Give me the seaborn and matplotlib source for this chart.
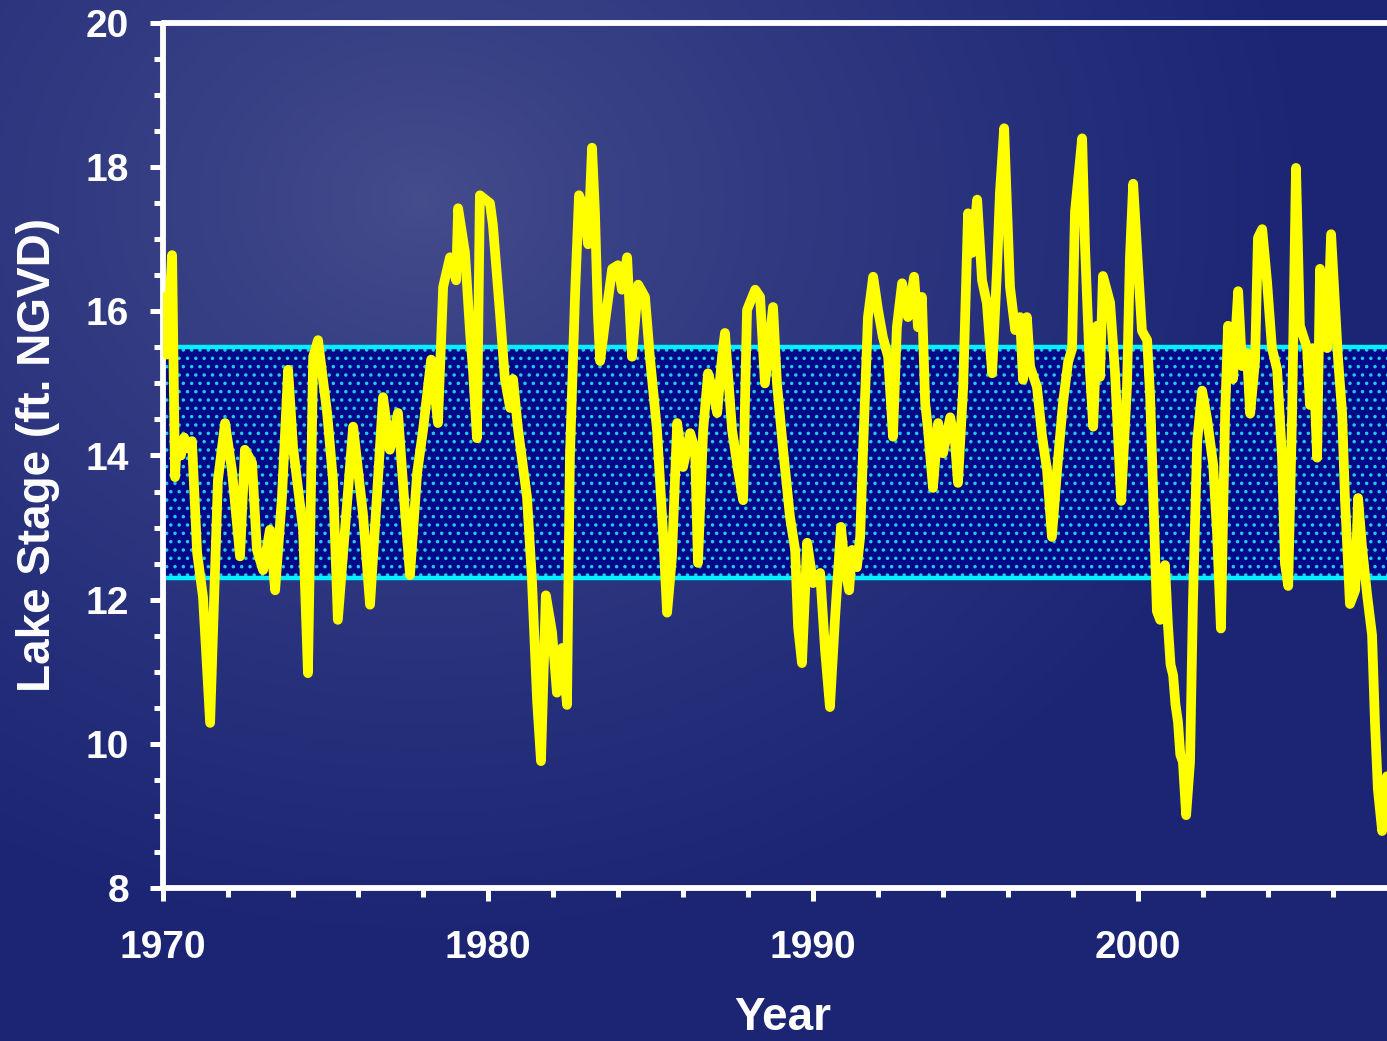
import numpy as np
import matplotlib
matplotlib.use("Agg")
import matplotlib.pyplot as plt
import seaborn as sns
from matplotlib.ticker import MultipleLocator, FixedLocator

# ---- data ----
years = [1970.00, 1970.06, 1970.12, 1970.28, 1970.37, 1970.43, 1970.55, 1970.65, 1970.77, 1970.89,
         1971.05, 1971.23, 1971.45, 1971.69, 1971.91, 1972.12, 1972.37, 1972.52, 1972.74, 1972.89,
         1973.08, 1973.29, 1973.45, 1973.66, 1973.85, 1974.00, 1974.31, 1974.46, 1974.62, 1974.77,
         1975.05, 1975.23, 1975.38, 1975.85, 1976.15, 1976.37, 1976.58, 1976.77, 1976.98, 1977.23,
         1977.45, 1977.60, 1977.82, 1978.00, 1978.25, 1978.46, 1978.62, 1978.83, 1979.02, 1979.08,
         1979.29, 1979.45, 1979.54, 1979.66, 1979.75, 1980.06, 1980.15, 1980.37, 1980.52, 1980.68,
         1980.77, 1980.92, 1981.20, 1981.35, 1981.51, 1981.63, 1981.78, 1981.97, 1982.12, 1982.28,
         1982.43, 1982.52, 1982.68, 1982.80, 1982.95, 1983.08, 1983.20, 1983.29, 1983.38, 1983.45,
         1983.60, 1983.82, 1984.00, 1984.12, 1984.28, 1984.43, 1984.62, 1984.83, 1984.98, 1985.20,
         1985.38, 1985.51, 1985.66, 1985.82, 1986.00, 1986.22, 1986.37, 1986.46, 1986.62, 1986.77,
         1986.92, 1987.05, 1987.20, 1987.29, 1987.51, 1987.69, 1987.85, 1987.91, 1987.97, 1988.22,
         1988.37, 1988.52, 1988.77, 1988.89, 1989.08, 1989.29, 1989.45, 1989.54, 1989.66, 1989.82,
         1990.00, 1990.22, 1990.37, 1990.52, 1990.68, 1990.86, 1990.98, 1991.11, 1991.20, 1991.35,
         1991.45, 1991.54, 1991.69, 1991.85, 1992.00, 1992.15, 1992.31, 1992.46, 1992.58, 1992.74,
         1992.92, 1993.11, 1993.23, 1993.35, 1993.45, 1993.54, 1993.69, 1993.85, 1994.00, 1994.22,
         1994.37, 1994.46, 1994.62, 1994.77, 1994.89, 1995.05, 1995.20, 1995.35, 1995.51, 1995.66,
         1995.75, 1995.88, 1996.06, 1996.22, 1996.37, 1996.46, 1996.58, 1996.68, 1996.89, 1997.05,
         1997.20, 1997.35, 1997.51, 1997.69, 1997.85, 1997.97, 1998.06, 1998.28, 1998.37, 1998.52,
         1998.62, 1998.74, 1998.83, 1998.92, 1999.14, 1999.29, 1999.48, 1999.66, 1999.75, 1999.85,
         2000.00, 2000.12, 2000.28, 2000.37, 2000.46, 2000.58, 2000.68, 2000.83, 2000.92, 2001.00,
         2001.08, 2001.15, 2001.23, 2001.30, 2001.38, 2001.48, 2001.60, 2001.69, 2001.82, 2001.97,
         2002.12, 2002.31, 2002.43, 2002.55, 2002.68, 2002.77, 2002.92, 2003.08, 2003.20, 2003.35,
         2003.45, 2003.60, 2003.69, 2003.82, 2003.97, 2004.12, 2004.28, 2004.43, 2004.52, 2004.62,
         2004.74, 2004.86, 2004.98, 2005.20, 2005.29, 2005.38, 2005.51, 2005.60, 2005.69, 2005.82,
         2005.94, 2006.06, 2006.15, 2006.28, 2006.37, 2006.52, 2006.68, 2006.77, 2006.89, 2007.05,
         2007.20, 2007.29, 2007.38, 2007.51, 2007.66]
stage = [15.9, 16.2, 15.4, 16.78, 13.7, 14.2, 14.0, 14.25, 14.1, 14.2,
         12.65, 12.04, 10.29, 13.66, 14.45, 13.8, 12.6, 14.08, 13.9, 12.69,
         12.41, 12.97, 12.13, 13.42, 15.19, 14.12, 12.97, 10.98, 15.37, 15.6,
         14.59, 13.66, 11.72, 14.4, 13.2, 11.93, 13.42, 14.81, 14.08, 14.59,
         13.2, 12.34, 13.76, 14.35, 15.33, 14.45, 16.34, 16.75, 16.43, 17.43,
         16.82, 15.69, 15.17, 14.24, 17.61, 17.5, 17.2, 15.96, 15.06, 14.66,
         15.06, 14.38, 13.42, 12.29, 10.6, 9.76, 12.06, 11.55, 10.71, 11.33,
         10.54, 13.98, 16.25, 17.61, 17.43, 16.93, 18.27, 17.38, 15.96, 15.31,
         15.85, 16.59, 16.64, 16.3, 16.75, 15.37, 16.37, 16.2, 15.37, 14.35,
         12.97, 11.82, 12.59, 14.45, 13.84, 14.31, 14.08, 12.51, 14.35, 15.14,
         14.9, 14.59, 15.37, 15.7, 14.35, 13.8, 13.38, 14.81, 16.02, 16.3,
         16.2, 15.0, 16.06, 15.0, 14.08, 13.15, 12.69, 11.62, 11.12, 12.79,
         12.23, 12.37, 11.3, 10.51, 11.76, 13.01, 12.45, 12.13, 12.69, 12.45,
         12.87, 14.08, 15.92, 16.48, 16.02, 15.64, 15.37, 14.26, 15.78, 16.39,
         15.92, 16.48, 15.78, 16.2, 14.73, 14.35, 13.55, 14.45, 14.03, 14.53,
         14.17, 13.62, 14.95, 17.36, 16.81, 17.55, 16.43, 16.11, 15.14, 16.57,
         17.64, 18.54, 16.34, 15.74, 15.92, 15.05, 15.92, 15.23, 14.95, 14.26,
         13.8, 12.87, 13.8, 14.73, 15.3, 15.48, 17.38, 18.4, 16.88, 15.16,
         14.4, 15.8, 15.09, 16.49, 16.12, 15.16, 13.37, 14.96, 16.74, 17.77,
         16.62, 15.73, 15.6, 14.84, 13.56, 11.84, 11.72, 12.48, 11.65, 11.1,
         10.95, 10.55, 10.3, 9.85, 9.75, 9.01, 9.75, 11.97, 14.2, 14.9,
         14.52, 13.88, 12.93, 11.6, 14.58, 15.8, 15.06, 16.28, 15.24, 15.42,
         14.58, 15.31, 17.02, 17.14, 16.41, 15.49, 15.19, 13.97, 12.5, 12.19,
         14.58, 17.99, 15.8, 15.49, 14.7, 15.49, 13.97, 16.59, 15.8, 15.49,
         17.07, 16.1, 15.37, 14.58, 13.36, 11.94, 12.13, 13.41, 12.74, 12.06,
         11.51, 10.29, 9.37, 8.79, 9.55]
band_low, band_high = 12.3, 15.5
x_major = [1970, 1980, 1990, 2000]
x_labels = ["1970", "1980", "1990", "2000"]
y_major = [8, 10, 12, 14, 16, 18, 20]
x_range = (1970, 2007.66)
y_range = (8, 20)

# ---- style ----
sns.set_theme(style="white")
plt.rcParams["font.family"] = ["Liberation Sans", "DejaVu Sans"]
plt.rcParams["font.weight"] = "bold"
plt.rcParams["hatch.color"] = "#25c8e8"
plt.rcParams["hatch.linewidth"] = 1.3

W, H = 1387, 1041
fig = plt.figure(figsize=(W / 100, H / 100), dpi=100)

# background gradient
bg = fig.add_axes([0, 0, 1, 1], zorder=0)
yy, xx = np.mgrid[0:H, 0:W]
r = np.hypot((xx - 420) / 900.0, (yy - 200) / 750.0)
t = np.clip(r, 0, 1) ** 0.8
c_in = np.array([0x46, 0x4d, 0x8d]) / 255.0
c_out = np.array([0x1b, 0x25, 0x74]) / 255.0
img = c_in * (1 - t[..., None]) + c_out * t[..., None]
bg.imshow(img, aspect="auto", extent=[0, 1, 0, 1], origin="upper")
bg.axis("off")

ax = fig.add_axes([163 / W, 1 - 888 / H, (W - 163) / W, (888 - 23) / H], zorder=1)
ax.patch.set_alpha(0)

# band
ax.axhspan(band_low, band_high, facecolor="#000a88", edgecolor="#25c8e8",
           hatch="..", linewidth=0, zorder=1)
ax.axhline(band_high, color="#00f0ff", lw=3.2, zorder=2)
ax.axhline(band_low, color="#00f0ff", lw=3.2, zorder=2)

sns.lineplot(x=years, y=stage, ax=ax, color="#ffff00", linewidth=7.0,
             estimator=None, sort=False, zorder=3)
for ln in ax.lines:
    ln.set_solid_joinstyle("round")
    ln.set_solid_capstyle("round")

ax.set_xlim(*x_range)
ax.set_ylim(*y_range)
ax.set_xticks(x_major, x_labels)
ax.xaxis.set_minor_locator(MultipleLocator(2))
ax.set_yticks(y_major)
ax.yaxis.set_minor_locator(MultipleLocator(0.5))

for side in ["top", "left", "bottom"]:
    ax.spines[side].set_color("white")
    ax.spines[side].set_linewidth(4.2)
    ax.spines[side].set_capstyle("round")
ax.spines["right"].set_visible(False)

ax.tick_params(axis="both", which="major", direction="out", length=9.5, width=3.6,
               color="white", labelcolor="white", labelsize=28, pad=15)
ax.tick_params(axis="x", which="major", pad=21)
ax.tick_params(axis="both", which="minor", direction="out", length=6.5, width=3.6,
               color="white")
ax.tick_params(axis="x", which="both", bottom=True, top=False)
ax.tick_params(axis="y", which="both", left=True, right=False)
for lab in ax.get_xticklabels() + ax.get_yticklabels():
    lab.set_fontweight("bold")

ax.set_xlabel("Year", fontsize=33, fontweight="bold", color="white")
ax.set_ylabel("Lake Stage (ft. NGVD)", fontsize=33, fontweight="bold", color="white")
ax.xaxis.set_label_coords((783 - 163) / (W - 163), (888 - 1018) / (888 - 23))
ax.xaxis.label.set_va("center")
ax.yaxis.set_label_coords((38 - 163) / (W - 163), (888 - 455) / (888 - 23))
ax.yaxis.label.set_va("center")
ax.grid(False)

fig.savefig("out.png", dpi=100)
